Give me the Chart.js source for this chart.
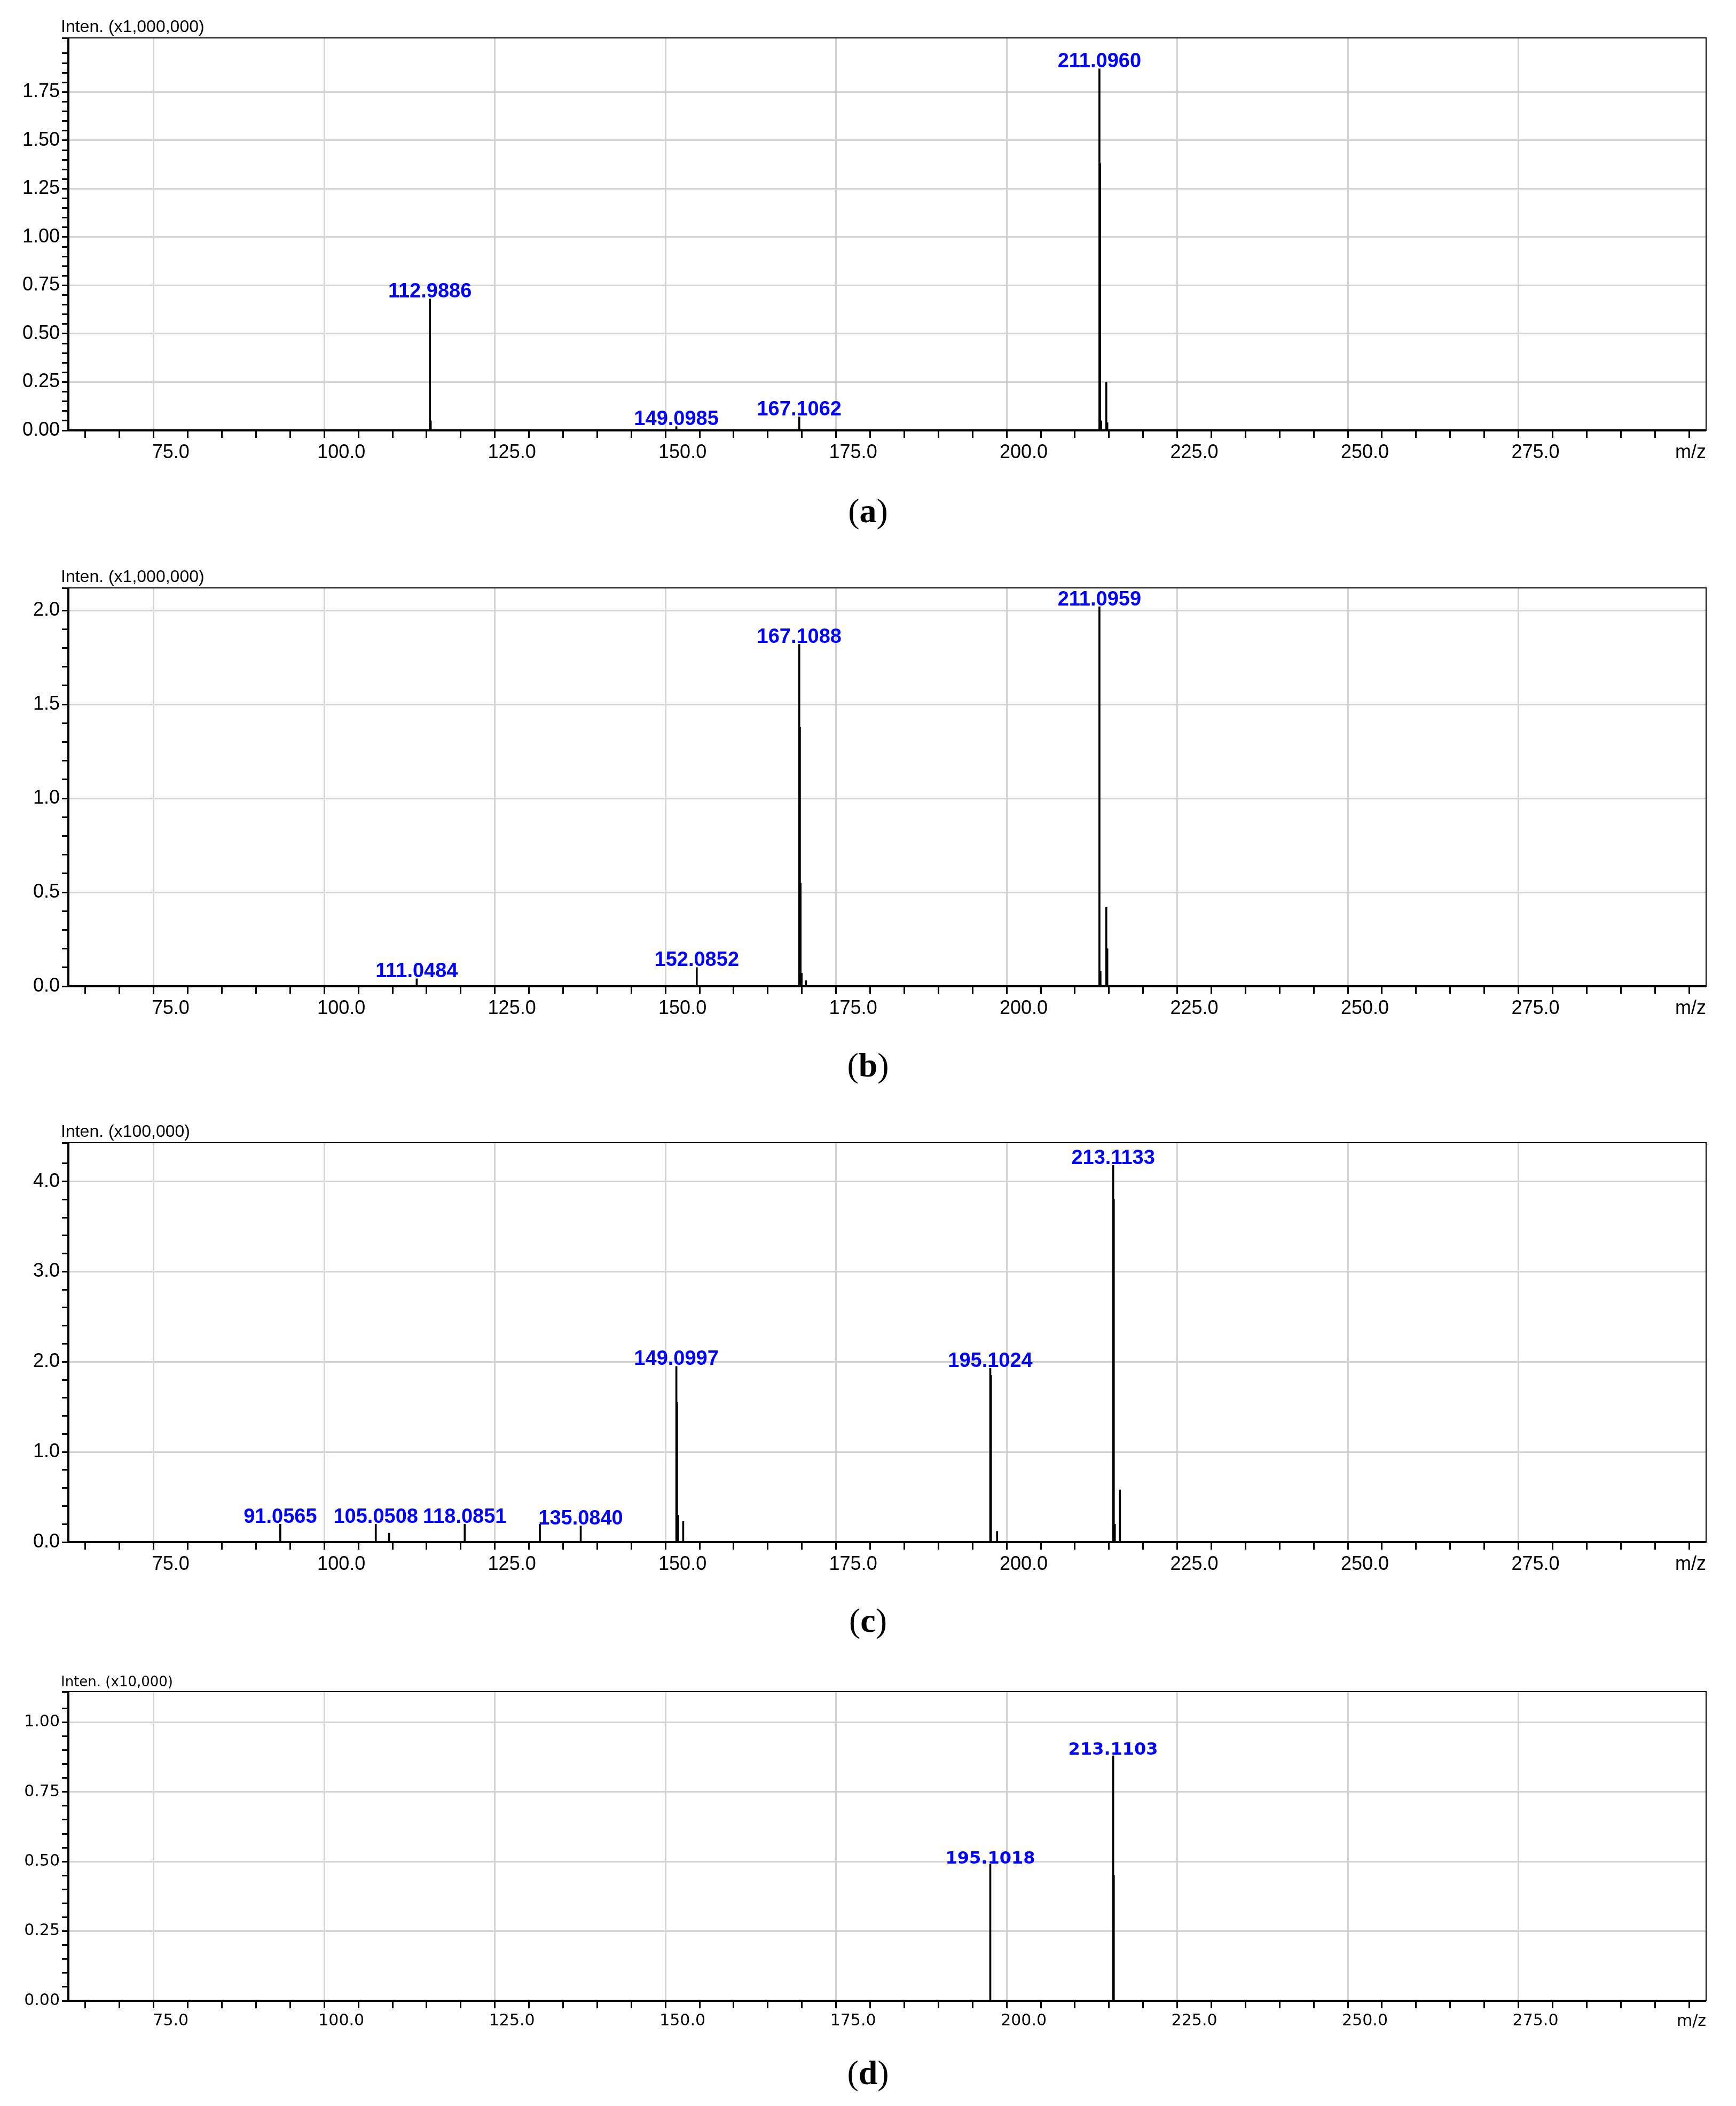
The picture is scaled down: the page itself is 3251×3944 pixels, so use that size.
<!DOCTYPE html>
<html>
<head>
<meta charset="utf-8">
<script src="https://cdn.jsdelivr.net/npm/chart.js@4.4.0/dist/chart.umd.min.js"></script>
<style>
  body { margin: 0; background: #fff; width: 3251px; height: 3944px; position: relative; overflow: hidden; }
  .box { position: absolute; left: 0; width: 3251px; }
  .cap { position: absolute; left: 0; width: 3251px; text-align: center; font-family: "Liberation Serif", serif; font-size: 64px; }
</style>
</head>
<body>
<div class="box" id="boxA"><canvas id="chartA"></canvas></div>
<div class="box" id="boxB"><canvas id="chartB"></canvas></div>
<div class="box" id="boxC"><canvas id="chartC"></canvas></div>
<div class="box" id="boxD"><canvas id="chartD"></canvas></div>
<div class="cap" style="top:920px">(<b>a</b>)</div>
<div class="cap" style="top:1958px">(<b>b</b>)</div>
<div class="cap" style="top:2998px">(<b>c</b>)</div>
<div class="cap" style="top:3845px">(<b>d</b>)</div>
<script>
// peaks (m/z, intensity in the panel's units)
const aMz  = [112.9886, 113.1, 149.0985, 167.1062, 211.0960, 211.2, 211.35, 212.1, 212.25];
const aInt = [0.68, 0.05, 0.02, 0.07, 1.87, 1.38, 0.05, 0.25, 0.04];
const aLab = ['112.9886', '', '149.0985', '167.1062', '211.0960', '', '', '', ''];

const bMz  = [111.0484, 152.0852, 167.1088, 167.2, 167.3, 167.45, 168.1, 211.0959, 211.25, 212.1, 212.25];
const bInt = [0.04, 0.10, 1.82, 1.38, 0.55, 0.07, 0.03, 2.02, 0.08, 0.42, 0.20];
const bLab = ['111.0484', '152.0852', '167.1088', '', '', '', '', '211.0959', '', '', ''];

const cMz  = [91.0565, 105.0508, 107.0, 118.0851, 129.1, 135.0840, 149.0997, 149.2, 149.35, 150.1, 195.1024, 195.2, 196.1, 213.1133, 213.2, 213.35, 214.1];
const cInt = [0.20, 0.20, 0.10, 0.20, 0.20, 0.18, 1.95, 1.55, 0.30, 0.23, 1.93, 1.85, 0.12, 4.18, 3.80, 0.20, 0.58];
const cLab = ['91.0565', '105.0508', '', '118.0851', '', '135.0840', '149.0997', '', '', '', '195.1024', '', '', '213.1133', '', '', ''];

const dMz  = [195.1018, 213.1103, 213.2];
const dInt = [0.49, 0.88, 0.45];
const dLab = ['195.1018', '213.1103', ''];

const panels = [
  { id: 'A', mz: aMz, y: aInt, lab: aLab, title: 'Inten. (x1,000,000)', top: 71,   bottom: 806,  ymax: 2.03, major: 0.25, minor: 0.05, dec: 2, font: 'Liberation Sans', fs: 36 },
  { id: 'B', mz: bMz, y: bInt, lab: bLab, title: 'Inten. (x1,000,000)', top: 1101, bottom: 1847, ymax: 2.12, major: 0.5,  minor: 0.1,  dec: 1, font: 'Liberation Sans', fs: 36 },
  { id: 'C', mz: cMz, y: cInt, lab: cLab, title: 'Inten. (x100,000)',   top: 2140, bottom: 2888, ymax: 4.43, major: 1.0,  minor: 0.2,  dec: 1, font: 'Liberation Sans', fs: 36 },
  { id: 'D', mz: dMz, y: dInt, lab: dLab, title: 'Inten. (x10,000)',    top: 3168, bottom: 3747, ymax: 1.11, major: 0.25, minor: 0.05, dec: 2, font: 'DejaVu Sans', fs: 30 }
];

const PAD_TOP = 70, X_AXIS_H = 80, LEFT = 128, RIGHT = 3195;

const isMult = (v, m) => Math.abs(v / m - Math.round(v / m)) < 1e-6;
const xMajor = v => isMult(v, 25) && v > 60 && v < 300;

const deco = {
  id: 'deco',
  afterDatasetsDraw(chart, args, o) {
    const ctx = chart.ctx, a = chart.chartArea;
    const xs = chart.scales.x, ys = chart.scales.y;
    ctx.save();
    ctx.strokeStyle = '#000';
    ctx.lineWidth = 2;
    ctx.strokeRect(a.left, a.top, a.right - a.left, a.bottom - a.top);
    ctx.lineWidth = 4;
    ctx.beginPath();
    ctx.moveTo(a.left, a.top); ctx.lineTo(a.left, a.bottom); ctx.lineTo(a.right, a.bottom);
    ctx.stroke();
    ctx.fillStyle = '#000';
    ctx.font = (o.fs - 4) + 'px "' + o.font + '"';
    ctx.textAlign = 'left';
    ctx.textBaseline = 'bottom';
    ctx.fillText(o.title, a.left - 14, a.top - 4);
    ctx.font = o.fs + 'px "' + o.font + '"';
    ctx.textAlign = 'right';
    ctx.textBaseline = 'top';
    ctx.fillText('m/z', a.right, a.bottom + 24);
    ctx.fillStyle = '#0000ff';
    ctx.font = 'bold ' + (o.fs + 2) + 'px "' + o.font + '"';
    ctx.textAlign = 'center';
    ctx.textBaseline = 'bottom';
    o.mz.forEach((m, i) => {
      if (!o.lab[i]) return;
      ctx.fillText(o.lab[i], xs.getPixelForValue(m), ys.getPixelForValue(o.y[i]) + 6);
    });
    ctx.restore();
  }
};

panels.forEach(p => {
  const box = document.getElementById('box' + p.id);
  const h = (p.bottom - p.top) + PAD_TOP + X_AXIS_H;
  box.style.top = (p.top - PAD_TOP) + 'px';
  box.style.height = h + 'px';
  const tickFont = { family: p.font, size: p.fs };

  new Chart(document.getElementById('chart' + p.id), {
    type: 'bar',
    data: {
      datasets: [{
        data: p.mz.map((m, i) => ({ x: m, y: p.y[i] })),
        backgroundColor: '#000',
        barThickness: 3
      }]
    },
    options: {
      responsive: true,
      maintainAspectRatio: false,
      animation: false,
      layout: { padding: { top: PAD_TOP, right: 3251 - RIGHT, left: 0, bottom: 0 } },
      plugins: {
        legend: { display: false },
        tooltip: { enabled: false },
        deco: { title: p.title, mz: p.mz, y: p.y, lab: p.lab, font: p.font, fs: p.fs }
      },
      scales: {
        x: {
          type: 'linear',
          min: 60, max: 300,
          offset: false,
          afterFit: s => { s.height = X_AXIS_H; },
          ticks: {
            stepSize: 5,
            autoSkip: false,
            maxRotation: 0,
            color: '#000',
            font: tickFont,
            padding: 6,
            callback: v => xMajor(v) ? v.toFixed(1) : ''
          },
          grid: {
            color: c => (c.tick && xMajor(c.tick.value)) ? '#d3d3d3' : 'rgba(0,0,0,0)',
            tickColor: '#000',
            tickLength: 14,
            lineWidth: 3,
            tickWidth: 3
          },
          border: { display: false }
        },
        y: {
          min: 0, max: p.ymax,
          afterFit: s => { s.width = LEFT; },
          ticks: {
            stepSize: p.minor,
            autoSkip: false,
            color: '#000',
            font: tickFont,
            padding: 4,
            callback: v => isMult(v, p.major) ? Number(v).toFixed(p.dec) : ''
          },
          grid: {
            color: c => (c.tick && isMult(c.tick.value, p.major) && c.tick.value > 0) ? '#d3d3d3' : 'rgba(0,0,0,0)',
            tickColor: '#000',
            tickLength: 12,
            lineWidth: 3,
            tickWidth: 3
          },
          border: { display: false }
        }
      }
    },
    plugins: [deco]
  });
});
</script>
</body>
</html>
